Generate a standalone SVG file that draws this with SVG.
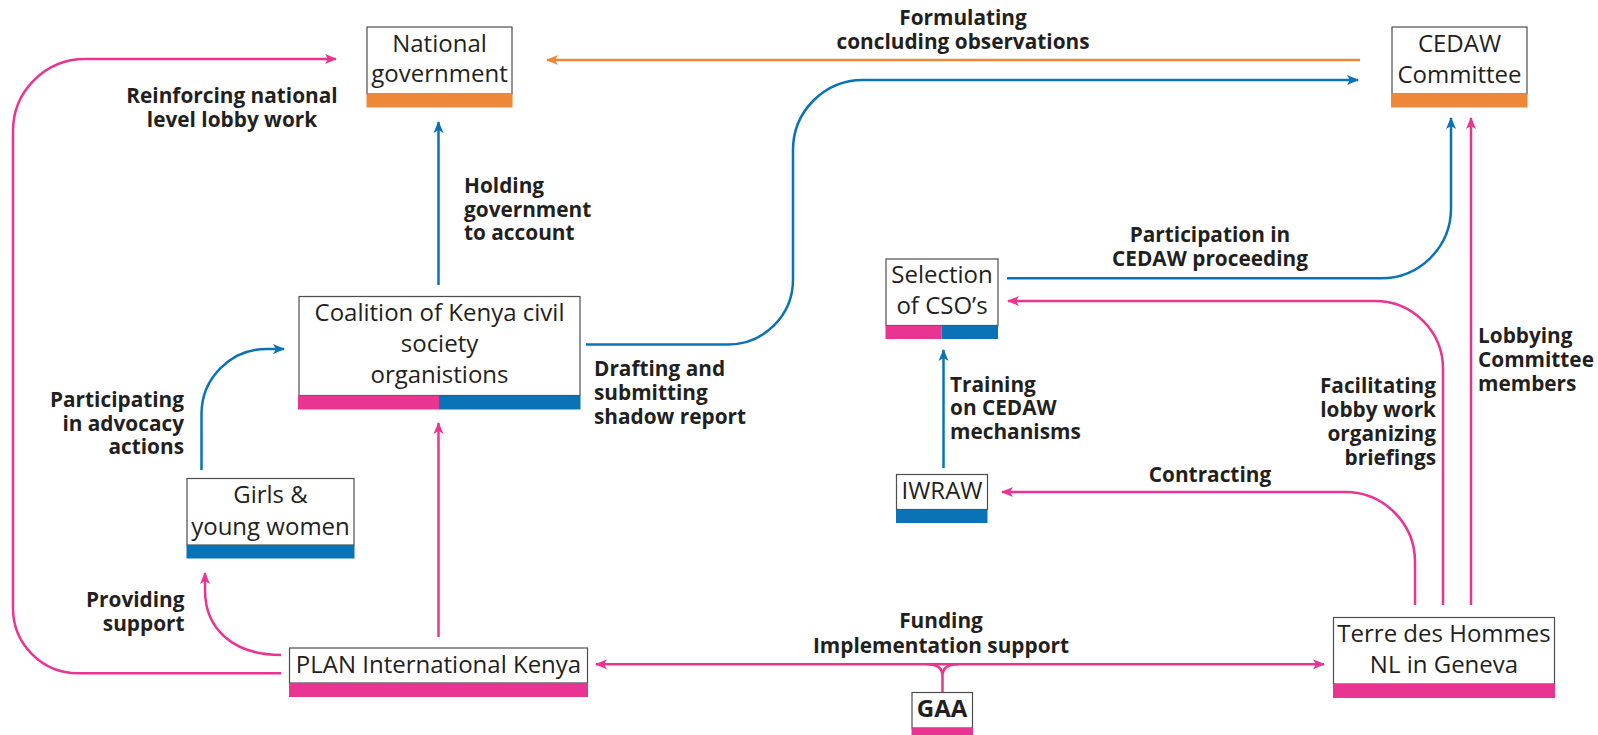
<svg xmlns="http://www.w3.org/2000/svg" width="1598" height="735" viewBox="0 0 1598 735">
<style>
.box{fill:#fff;stroke:#4d4d4d;stroke-width:1.2}
.pk{fill:#ea3492}
.bl{fill:#0a72b7}
.or{fill:#ef8739}
.nt{font-family:"Open Sans","Noto Sans",sans-serif;font-size:24px;fill:#231f20;text-anchor:middle}
.lb{font-family:"Open Sans","Noto Sans",sans-serif;font-size:20.8px;font-weight:700;fill:#231f20}
.c{fill:none;stroke-width:2.5}
.cp{stroke:#ea3492}
.cb{stroke:#0a72b7}
.co{stroke:#ef8739}
</style>
<defs>
<marker id="ap" viewBox="0 0 12 12" refX="11" refY="6" markerWidth="12" markerHeight="12" markerUnits="userSpaceOnUse" orient="auto-start-reverse"><path d="M0,1 L12,6 L0,11 L3,6 z" fill="#ea3492"/></marker>
<marker id="ab" viewBox="0 0 12 12" refX="11" refY="6" markerWidth="12" markerHeight="12" markerUnits="userSpaceOnUse" orient="auto-start-reverse"><path d="M0,1 L12,6 L0,11 L3,6 z" fill="#0a72b7"/></marker>
<marker id="ao" viewBox="0 0 12 12" refX="11" refY="6" markerWidth="12" markerHeight="12" markerUnits="userSpaceOnUse" orient="auto-start-reverse"><path d="M0,1 L12,6 L0,11 L3,6 z" fill="#ef8739"/></marker>
</defs>

<g id="connectors">
<path class="c cp" d="M281,673.3 H78 A65,65 0 0 1 13,608 V131 A72,72 0 0 1 85,59 H336" marker-end="url(#ap)"/>
<path class="c co" d="M1360,60 H547" marker-end="url(#ao)"/>
<path class="c cb" d="M586,344.5 H728 A65,65 0 0 0 793,279.5 V150 A70,70 0 0 1 863,80 H1358" marker-end="url(#ab)"/>
<path class="c cb" d="M438.5,285 V122" marker-end="url(#ab)"/>
<path class="c cp" d="M438.5,637 V423" marker-end="url(#ap)"/>
<path class="c cb" d="M201.5,470 V414 A65,65 0 0 1 266.5,349 H284" marker-end="url(#ab)"/>
<path class="c cb" d="M1007,278.3 H1381 A70,70 0 0 0 1451,208.3 V118" marker-end="url(#ab)"/>
<path class="c cp" d="M1443,605 V369 A68,68 0 0 0 1375,301 H1008" marker-end="url(#ap)"/>
<path class="c cp" d="M1415,605 V562 A70,70 0 0 0 1345,492 H1002" marker-end="url(#ap)"/>
<path class="c cp" d="M1471,605 V118" marker-end="url(#ap)"/>
<path class="c cb" d="M943.5,468 V350" marker-end="url(#ab)"/>
<path class="c cp" d="M281,655 C232,655 205,628 205,590 V573" marker-end="url(#ap)"/>
<path class="c cp" d="M596,664.3 H1324" marker-start="url(#ap)" marker-end="url(#ap)"/>
<path class="c cp" d="M927,664.3 C937,664.3 942.5,668 942.5,676 V692 M958,664.3 C948,664.3 942.5,668 942.5,676"/>
</g>

<g id="labels">
<text class="lb" text-anchor="middle"><tspan x="963" y="25">Formulating</tspan><tspan x="963" y="48.5">concluding observations</tspan></text>
<text class="lb" text-anchor="middle"><tspan x="232" y="103">Reinforcing national</tspan><tspan x="232" y="127">level lobby work</tspan></text>
<text class="lb"><tspan x="464" y="193">Holding</tspan><tspan x="464" y="217">government</tspan><tspan x="464" y="240">to account</tspan></text>
<text class="lb" text-anchor="end"><tspan x="184" y="407">Participating</tspan><tspan x="184" y="430.5">in advocacy</tspan><tspan x="184" y="454">actions</tspan></text>
<text class="lb"><tspan x="594" y="375.5">Drafting and</tspan><tspan x="594" y="399.5">submitting</tspan><tspan x="594" y="423.5">shadow report</tspan></text>
<text class="lb" text-anchor="middle"><tspan x="1210" y="242">Participation in</tspan><tspan x="1210" y="265.5">CEDAW proceeding</tspan></text>
<text class="lb"><tspan x="1478" y="343">Lobbying</tspan><tspan x="1478" y="367">Committee</tspan><tspan x="1478" y="391">members</tspan></text>
<text class="lb" text-anchor="end"><tspan x="1436" y="393">Facilitating</tspan><tspan x="1436" y="417">lobby work</tspan><tspan x="1436" y="441">organizing</tspan><tspan x="1436" y="465">briefings</tspan></text>
<text class="lb"><tspan x="950" y="391.5">Training</tspan><tspan x="950" y="415">on CEDAW</tspan><tspan x="950" y="439">mechanisms</tspan></text>
<text class="lb" text-anchor="middle" x="1210" y="482">Contracting</text>
<text class="lb" text-anchor="end"><tspan x="184.5" y="606.5">Providing</tspan><tspan x="184.5" y="630.5">support</tspan></text>
<text class="lb" text-anchor="middle"><tspan x="941" y="627.5">Funding</tspan><tspan x="941" y="653">Implementation support</tspan></text>
</g>

<g id="national-government">
<rect class="box" x="367" y="27" width="145" height="67"/>
<rect class="or" x="366.5" y="93.5" width="146" height="14"/>
<text class="nt"><tspan x="439.5" y="51.5">National</tspan><tspan x="439.5" y="82">government</tspan></text>
</g>

<g id="cedaw-committee">
<rect class="box" x="1392" y="27" width="135" height="67"/>
<rect class="or" x="1391" y="93.5" width="136.5" height="14"/>
<text class="nt"><tspan x="1459.5" y="51.5">CEDAW</tspan><tspan x="1459.5" y="82.5">Committee</tspan></text>
</g>

<g id="coalition">
<rect class="box" x="299" y="296.5" width="281" height="99"/>
<rect class="pk" x="298" y="395.5" width="141" height="14"/>
<rect class="bl" x="439" y="395.5" width="141.5" height="14"/>
<text class="nt"><tspan x="439.5" y="321">Coalition of Kenya civil</tspan><tspan x="439.5" y="352">society</tspan><tspan x="439.5" y="383">organistions</tspan></text>
</g>

<g id="girls-young-women">
<rect class="box" x="187" y="478.5" width="167" height="66.5"/>
<rect class="bl" x="186.5" y="545" width="168" height="13.5"/>
<text class="nt"><tspan x="270.5" y="503">Girls &amp;</tspan><tspan x="270.5" y="535">young women</tspan></text>
</g>

<g id="selection-csos">
<rect class="box" x="886" y="259" width="112" height="66.5"/>
<rect class="pk" x="885.5" y="325.5" width="56" height="13.5"/>
<rect class="bl" x="941.5" y="325.5" width="56.5" height="13.5"/>
<text class="nt"><tspan x="942" y="283">Selection</tspan><tspan x="942" y="314">of CSO’s</tspan></text>
</g>

<g id="iwraw">
<rect class="box" x="896.5" y="474.5" width="91" height="35"/>
<rect class="bl" x="896" y="509.5" width="91.5" height="13.5"/>
<text class="nt" x="942" y="499">IWRAW</text>
</g>

<g id="plan-international-kenya">
<rect class="box" x="289.5" y="648" width="298" height="35"/>
<rect class="pk" x="289" y="683" width="299" height="14"/>
<text class="nt" x="438.5" y="673">PLAN International Kenya</text>
</g>

<g id="terre-des-hommes">
<rect class="box" x="1333.5" y="617.5" width="221" height="66.5"/>
<rect class="pk" x="1333" y="684" width="222" height="14"/>
<text class="nt"><tspan x="1444" y="642">Terre des Hommes</tspan><tspan x="1444" y="673">NL in Geneva</tspan></text>
</g>

<g id="gaa">
<rect class="box" x="912" y="692.5" width="60.5" height="35.5"/>
<rect class="pk" x="911.5" y="728" width="61.5" height="7"/>
<text class="nt" x="942" y="717" style="font-weight:700">GAA</text>
</g>
</svg>
